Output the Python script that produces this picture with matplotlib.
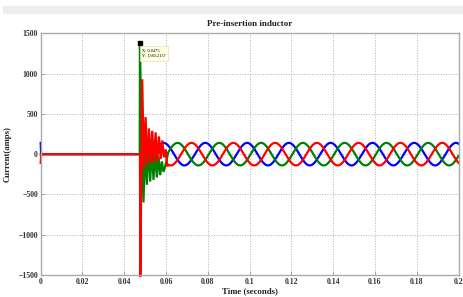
import numpy as np
import matplotlib.pyplot as plt

plt.rcParams['font.family'] = ['Liberation Serif', 'DejaVu Serif']

# values
SWITCH_T = 0.0475
TIP_X, TIP_Y = 0.0475, 1380.2137

# before switching: a short initial value at t=0, then zero
PRE_T = [0.0, 0.0002, SWITCH_T - 0.0001]
PRE_BLUE = [140, 0, 0]
PRE_GREEN = [0, 0, 0]
PRE_RED = [-110, 0, 0]

# transient extrema (time, current) after the inductor is switched in
GREEN_T = [0.0475, 0.0483, 0.0492, 0.0500, 0.0508, 0.0516, 0.0524, 0.0532, 0.0540,
           0.0548, 0.0556, 0.0564, 0.0572, 0.0580, 0.0588, 0.0596, 0.0604]
GREEN_V = [1380, 200, -600, 150, -380, 120, -340, 80, -320,
           40, -290, -30, -260, -90, -220, -150, -60]
RED_T = [0.0475, 0.0477, 0.0486, 0.0494, 0.0502, 0.0510, 0.0518, 0.0526, 0.0534,
         0.0542, 0.0550, 0.0558, 0.0566, 0.0574, 0.0582, 0.0590, 0.0598, 0.0606]
RED_V = [0, -1520, 930, -180, 460, -130, 320, -110, 290,
         -100, 270, -90, 220, -60, 170, -40, 60, -150]
BLUE_T = [0.0475, 0.0483, 0.0491, 0.0499, 0.0507, 0.0515, 0.0523, 0.0531, 0.0539,
          0.0547, 0.0555, 0.0563]
BLUE_V = [0, -60, 40, -80, 30, -70, 20, -50, 10, -30, 20, 40]

# steady state: 50 Hz, ~140 A peak, time of one positive peak for each phase
FREQ = 50
AMP = 140
PEAK_BLUE, PEAK_GREEN, PEAK_RED = 0.0788, 0.0855, 0.0922
T_END = 0.2


def phase(pre_v, tr_t, tr_v, peak):
    ts = np.linspace(tr_t[-1] + 0.0006, T_END, 1400)
    ss = AMP * np.cos(2 * np.pi * FREQ * (ts - peak))
    t = np.concatenate([PRE_T, tr_t, ts])
    v = np.concatenate([pre_v, tr_v, ss])
    return t, v


fig = plt.figure(figsize=(4.63, 2.97), dpi=100)
fig.patches.append(plt.Rectangle((3 / 463, 1 - 12.7 / 297), 460 / 463, 6.7 / 297,
                                 transform=fig.transFigure, color='#eeeeee', zorder=0))
ax = fig.add_axes([40.7 / 463, 1 - 275 / 297, 417.8 / 463, 241.7 / 297])

for pre_v, tr_t, tr_v, peak, col in [(PRE_BLUE, BLUE_T, BLUE_V, PEAK_BLUE, '#0000ff'),
                                     (PRE_GREEN, GREEN_T, GREEN_V, PEAK_GREEN, '#008000'),
                                     (PRE_RED, RED_T, RED_V, PEAK_RED, '#ff0000')]:
    t, v = phase(pre_v, tr_t, tr_v, peak)
    ax.plot(t, v, color=col, lw=1.6, solid_joinstyle='miter', clip_on=False)

# data tip
ax.plot([TIP_X], [TIP_Y], 's', color='black', ms=3, zorder=5)
ax.text(TIP_X + 0.0009, TIP_Y - 70, f"X: {TIP_X}\nY: {TIP_Y}", fontsize=3.2,
        va='top', ha='left', linespacing=1.6, zorder=6,
        bbox=dict(boxstyle='square,pad=0.5', fc='#ffffe1', ec='#e0e0c0', lw=0.5))

ax.set_xlim(0, 0.2)
ax.set_ylim(-1500, 1500)
ax.set_xticks([0, 0.02, 0.04, 0.06, 0.08, 0.1, 0.12, 0.14, 0.16, 0.18, 0.2])
ax.set_xticklabels(['0', '0.02', '0.04', '0.06', '0.08', '0.1', '0.12', '0.14', '0.16', '0.18', '0.2'])
ax.set_yticks([-1500, -1000, -500, 0, 500, 1000, 1500])
ax.grid(True, color='#b0b0b0', ls=':', lw=0.7)
ax.tick_params(direction='in', length=3, width=0.6, color='#999999',
               labelsize=5.6, pad=2)
for lab in ax.get_xticklabels() + ax.get_yticklabels():
    lab.set_fontweight('bold')
    lab.set_color('#333333')
for s in ax.spines.values():
    s.set_color('#aaaaaa')
    s.set_linewidth(1.0)

ax.set_title('Pre-insertion inductor', fontsize=6.5, fontweight='bold', pad=5, color='#222222')
ax.set_xlabel('Time (seconds)', fontsize=6.3, fontweight='bold', labelpad=1, color='#222222')
ax.set_ylabel('Current(amps)', fontsize=6.3, fontweight='bold', labelpad=5, color='#222222')

fig.savefig('out.png', dpi=100)
